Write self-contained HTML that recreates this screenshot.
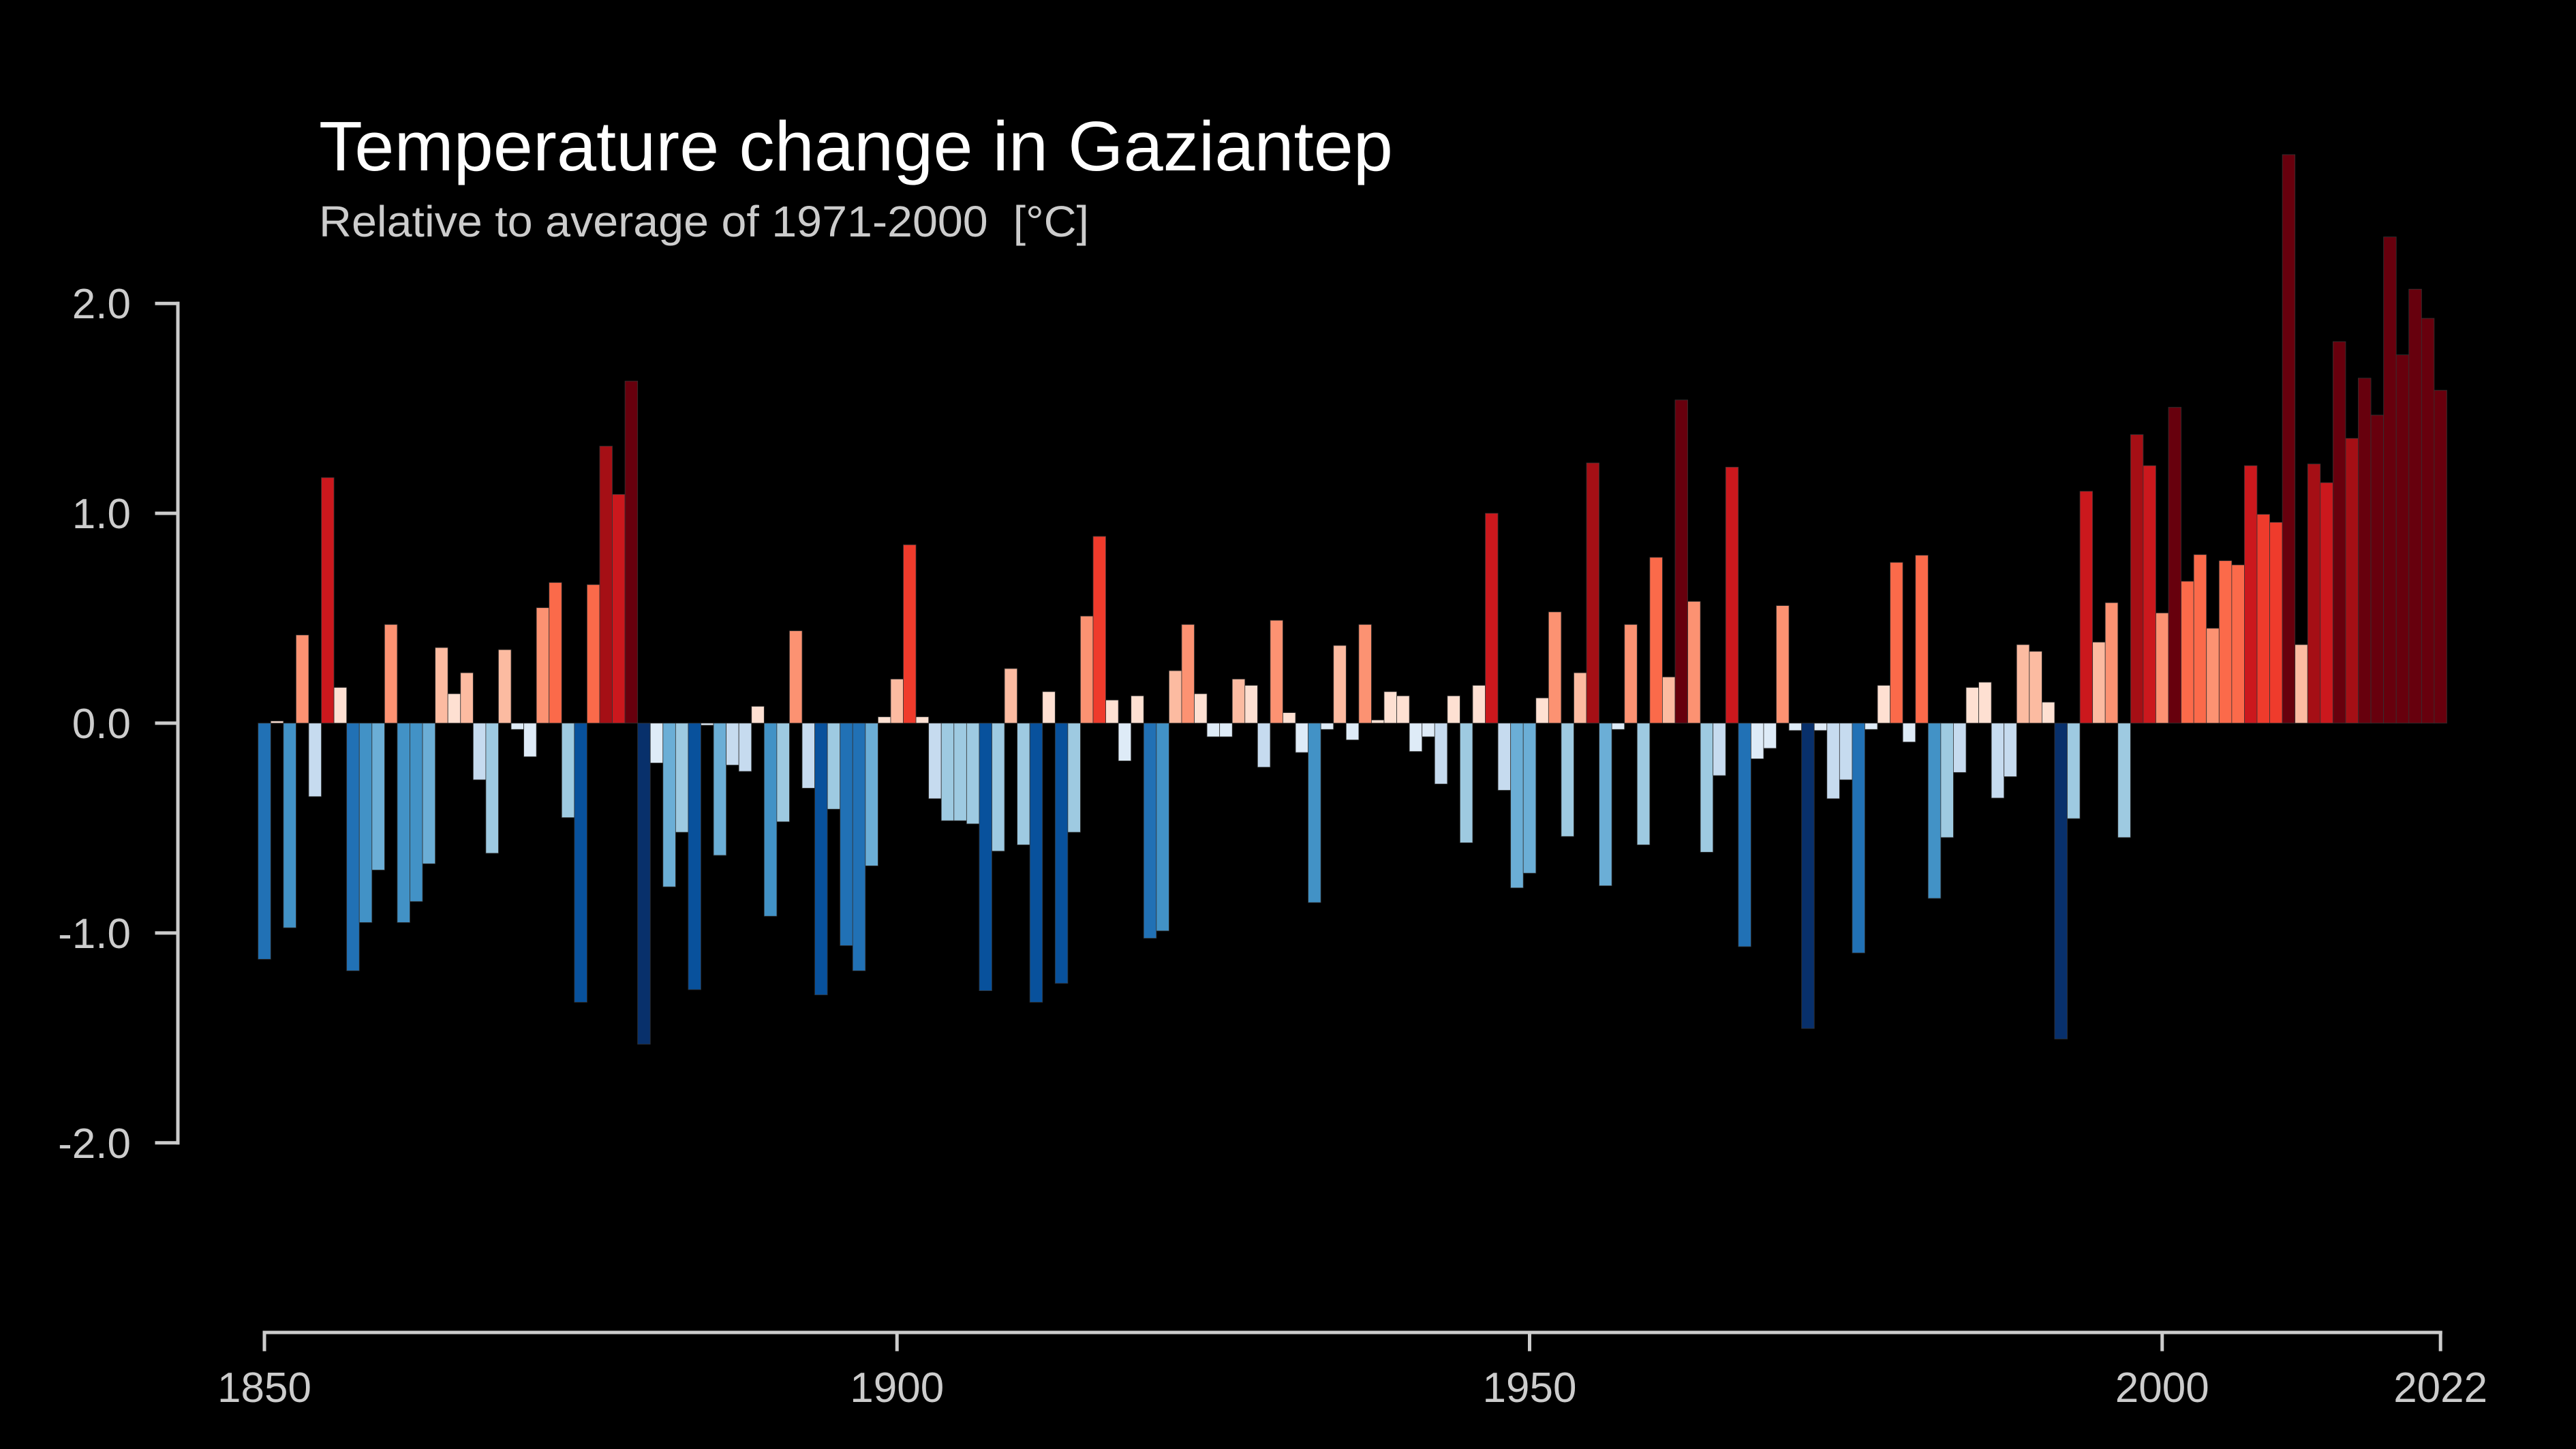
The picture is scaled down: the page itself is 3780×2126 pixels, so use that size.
<!DOCTYPE html>
<html><head><meta charset="utf-8"><style>
html,body{margin:0;padding:0;background:#000;}
svg{display:block;font-family:"Liberation Sans",Arial,sans-serif;}
</style></head><body>
<svg id="chart" width="3780" height="2126" viewBox="0 0 3780 2126">
<rect width="3780" height="2126" fill="#000"/>
<text x="468" y="250" font-size="103" fill="#fff" textLength="1576" lengthAdjust="spacingAndGlyphs">Temperature change in Gaziantep</text>
<text x="468" y="347" font-size="64" fill="#cccccc" style="white-space:pre" xml:space="preserve" textLength="1130" lengthAdjust="spacingAndGlyphs">Relative to average of 1971-2000  [°C]</text>
<g id="bars"></g>
<g id="axes"></g>
</svg>
<script>
const startYear = 1850;
const anomalies = [
-1.125,0.01,-0.975,0.42,-0.35,1.17,0.17,-1.18,-0.95,-0.70,
0.47,-0.95,-0.85,-0.67,0.36,0.14,0.24,-0.27,-0.62,0.35,
-0.03,-0.16,0.55,0.67,-0.45,-1.33,0.66,1.32,1.09,1.63,
-1.53,-0.19,-0.78,-0.52,-1.27,-0.01,-0.63,-0.20,-0.23,0.08,
-0.92,-0.47,0.44,-0.31,-1.295,-0.41,-1.06,-1.18,-0.68,0.03,
0.21,0.85,0.03,-0.36,-0.465,-0.465,-0.48,-1.275,-0.61,0.26,
-0.58,-1.33,0.15,-1.24,-0.52,0.51,0.89,0.11,-0.18,0.13,
-1.025,-0.99,0.25,0.47,0.14,-0.065,-0.065,0.21,0.18,-0.21,
0.49,0.05,-0.14,-0.855,-0.03,0.37,-0.08,0.47,0.015,0.15,
0.13,-0.135,-0.065,-0.29,0.13,-0.57,0.18,1.00,-0.32,-0.785,
-0.715,0.12,0.53,-0.54,0.24,1.24,-0.775,-0.03,0.47,-0.58,
0.79,0.22,1.54,0.58,-0.615,-0.25,1.22,-1.065,-0.17,-0.12,
0.56,-0.035,-1.455,-0.035,-0.36,-0.27,-1.095,-0.03,0.18,0.766,
-0.09,0.80,-0.835,-0.545,-0.235,0.17,0.195,-0.357,-0.255,0.374,
0.342,0.10,-1.505,-0.455,1.105,0.386,0.574,-0.545,1.375,1.227,
0.525,1.505,0.676,0.803,0.452,0.774,0.754,1.227,0.995,0.957,
2.709,0.374,1.235,1.146,1.818,1.357,1.644,1.468,2.317,1.755,
2.068,1.929,1.586];
const yTicks = [2,1,0,-1,-2];
const yTickLabels = ["2.0","1.0","0.0","-1.0","-2.0"];
const xTicks = [1850,1900,1950,2000,2022];
const xTickLabels = ["1850","1900","1950","2000","2022"];

const NS = "http://www.w3.org/2000/svg";
const X0 = 388, PXYEAR = 18.565, Y0 = 1061, PXUNIT = 307.9;
function xScale(year){ return X0 + (year - startYear) * PXYEAR; }
function yScale(v){ return Y0 - v * PXUNIT; }
function colorFor(v){
  if (v >= 1.4) return "#67000d";
  if (v >= 1.235) return "#a50f15";
  if (v >= 1.0) return "#cb181d";
  if (v >= 0.82) return "#ef3b2c";
  if (v >= 0.6) return "#fb6a4a";
  if (v >= 0.4) return "#fc9272";
  if (v >= 0.2) return "#fcbba1";
  if (v >= 0) return "#fee0d2";
  if (v > -0.2) return "#deebf7";
  if (v > -0.4) return "#c6dbef";
  if (v > -0.625) return "#9ecae1";
  if (v > -0.8) return "#6baed6";
  if (v > -1.0) return "#4292c6";
  if (v > -1.2) return "#2171b5";
  if (v > -1.4) return "#08519c";
  return "#08306b";
}
const bars = document.getElementById("bars");
anomalies.forEach((v, i) => {
  const yr = startYear + i;
  const r = document.createElementNS(NS, "rect");
  const x = xScale(yr) - PXYEAR / 2;
  const top = Math.min(yScale(v), yScale(0));
  const h = Math.abs(yScale(v) - yScale(0));
  r.setAttribute("x", x.toFixed(2));
  r.setAttribute("y", top.toFixed(2));
  r.setAttribute("width", PXYEAR.toFixed(2));
  r.setAttribute("height", Math.max(h, 0.5).toFixed(2));
  r.setAttribute("fill", colorFor(v));
  r.setAttribute("stroke", "#333");
  r.setAttribute("stroke-width", "0.8");
  
  
  bars.appendChild(r);
});
const axes = document.getElementById("axes");
function line(x1,y1,x2,y2,name){
  const l = document.createElementNS(NS, "line");
  l.setAttribute("x1",x1); l.setAttribute("y1",y1);
  l.setAttribute("x2",x2); l.setAttribute("y2",y2);
  l.setAttribute("stroke","#cccccc"); l.setAttribute("stroke-width","5");
  l.setAttribute("stroke-linecap","square");
  
  
  axes.appendChild(l);
}
function label(x,y,txt,anchor,name){
  const t = document.createElementNS(NS, "text");
  t.setAttribute("x",x); t.setAttribute("y",y);
  t.setAttribute("fill","#cccccc"); t.setAttribute("font-size","62");
  t.setAttribute("text-anchor",anchor);
  t.textContent = txt;
  
  
  axes.appendChild(t);
}
line(261, yScale(yTicks[0]), 261, yScale(yTicks[yTicks.length-1]), "y-axis-line");
yTicks.forEach((v,i) => {
  line(230, yScale(v), 261, yScale(v), "y-tick");
  label(192, yScale(v) + 22, yTickLabels[i], "end", "y-tick-label");
});
line(xScale(xTicks[0]), 1955, xScale(xTicks[xTicks.length-1]), 1955, "x-axis-line");
xTicks.forEach((yr,i) => {
  line(xScale(yr), 1955, xScale(yr), 1980, "x-tick");
  label(xScale(yr), 2057, xTickLabels[i], "middle", "x-tick-label");
});
</script>
</body></html>
